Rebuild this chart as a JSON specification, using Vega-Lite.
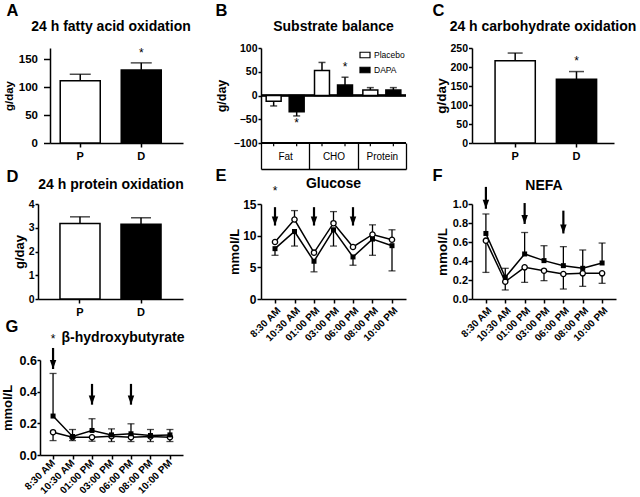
{
  "$schema": "https://vega.github.io/schema/vega-lite/v6.json",
  "padding": {"left": 1, "top": 2, "right": 2, "bottom": 4},
  "config": {
    "font": "Liberation Sans",
    "view": {"stroke": null},
    "axis": {"domainColor": "black", "domainWidth": 1.5, "tickColor": "black", "tickWidth": 1.5, "tickSize": 5, "labelColor": "black", "labelFont": "Liberation Sans", "labelFontWeight": "bold", "labelFontSize": 11, "labelPadding": 3, "labelOverlap": false, "titleFont": "Liberation Sans", "titleFontSize": 12, "titleFontWeight": "bold", "titleColor": "black", "titlePadding": 4, "grid": false},
    "title": {"font": "Liberation Sans", "fontSize": 14, "fontWeight": "bold", "color": "black", "frame": "group"},
    "legend": {"labelFont": "Liberation Sans", "labelColor": "black"}
  },
  "datasets": {
    "fat": [{"g": "P", "v": 111.6, "hi": 123}, {"g": "D", "v": 130.8, "hi": 143.4}],
    "fatStar": [{"g": "D", "sy": 161}],
    "sub": [
      {"cat": "Fat", "grp": "Placebo", "v": -12, "hi": -22},
      {"cat": "Fat", "grp": "DAPA", "v": -34, "hi": -43},
      {"cat": "CHO", "grp": "Placebo", "v": 52.6, "hi": 69.6},
      {"cat": "CHO", "grp": "DAPA", "v": 22, "hi": 38.5},
      {"cat": "Protein", "grp": "Placebo", "v": 11.5, "hi": 16.6},
      {"cat": "Protein", "grp": "DAPA", "v": 11.5, "hi": 16.6}
    ],
    "subStar": [{"cat": "Fat", "grp": "DAPA", "sy": -58}, {"cat": "CHO", "grp": "DAPA", "sy": 61}],
    "carb": [{"g": "P", "v": 216.4, "hi": 236.7}, {"g": "D", "v": 167.8, "hi": 188}],
    "carbStar": [{"g": "D", "sy": 216}],
    "prot": [{"g": "P", "v": 3.18, "hi": 3.46}, {"g": "D", "v": 3.15, "hi": 3.42}],
    "glu": [
      {"k": 1, "t": "8:30 AM", "grp": "Placebo", "v": 9.0, "eb": null},
      {"k": 2, "t": "10:30 AM", "grp": "Placebo", "v": 12.55, "eb": 13.96},
      {"k": 3, "t": "01:00 PM", "grp": "Placebo", "v": 7.32, "eb": null},
      {"k": 4, "t": "03:00 PM", "grp": "Placebo", "v": 11.97, "eb": 13.8},
      {"k": 5, "t": "06:00 PM", "grp": "Placebo", "v": 8.21, "eb": null},
      {"k": 6, "t": "08:00 PM", "grp": "Placebo", "v": 10.19, "eb": 11.71},
      {"k": 7, "t": "10:00 PM", "grp": "Placebo", "v": 9.36, "eb": 10.93},
      {"k": 1, "t": "8:30 AM", "grp": "DAPA", "v": 7.95, "eb": 6.9},
      {"k": 2, "t": "10:30 AM", "grp": "DAPA", "v": 10.66, "eb": 8.36},
      {"k": 3, "t": "01:00 PM", "grp": "DAPA", "v": 5.96, "eb": 4.29},
      {"k": 4, "t": "03:00 PM", "grp": "DAPA", "v": 10.93, "eb": 8.36},
      {"k": 5, "t": "06:00 PM", "grp": "DAPA", "v": 6.64, "eb": 5.33},
      {"k": 6, "t": "08:00 PM", "grp": "DAPA", "v": 9.46, "eb": 6.9},
      {"k": 7, "t": "10:00 PM", "grp": "DAPA", "v": 8.42, "eb": 4.44}
    ],
    "gluArr": [{"t": "8:30 AM", "top": 14.5, "tip": 11.6}, {"t": "01:00 PM", "top": 14.5, "tip": 11.6}, {"t": "06:00 PM", "top": 14.5, "tip": 11.6}],
    "gluStar": [{"t": "8:30 AM", "sy": 17.0}],
    "nefa": [
      {"k": 1, "t": "8:30 AM", "grp": "Placebo", "v": 0.614, "eb": 0.28},
      {"k": 2, "t": "10:30 AM", "grp": "Placebo", "v": 0.182, "eb": 0.095},
      {"k": 3, "t": "01:00 PM", "grp": "Placebo", "v": 0.333, "eb": 0.175},
      {"k": 4, "t": "03:00 PM", "grp": "Placebo", "v": 0.298, "eb": 0.193},
      {"k": 5, "t": "06:00 PM", "grp": "Placebo", "v": 0.263, "eb": 0.105},
      {"k": 6, "t": "08:00 PM", "grp": "Placebo", "v": 0.27, "eb": 0.133},
      {"k": 7, "t": "10:00 PM", "grp": "Placebo", "v": 0.27, "eb": 0.165},
      {"k": 1, "t": "8:30 AM", "grp": "DAPA", "v": 0.69, "eb": 0.895},
      {"k": 2, "t": "10:30 AM", "grp": "DAPA", "v": 0.228, "eb": 0.323},
      {"k": 3, "t": "01:00 PM", "grp": "DAPA", "v": 0.474, "eb": 0.7},
      {"k": 4, "t": "03:00 PM", "grp": "DAPA", "v": 0.404, "eb": 0.561},
      {"k": 5, "t": "06:00 PM", "grp": "DAPA", "v": 0.351, "eb": 0.551},
      {"k": 6, "t": "08:00 PM", "grp": "DAPA", "v": 0.323, "eb": 0.516},
      {"k": 7, "t": "10:00 PM", "grp": "DAPA", "v": 0.379, "eb": 0.589}
    ],
    "nefaArr": [{"t": "8:30 AM", "top": 1.18, "tip": 0.95}, {"t": "01:00 PM", "top": 1.01, "tip": 0.79}, {"t": "06:00 PM", "top": 0.93, "tip": 0.69}],
    "bhb": [
      {"k": 1, "t": "8:30 AM", "grp": "Placebo", "v": 0.144, "eb": 0.091},
      {"k": 2, "t": "10:30 AM", "grp": "Placebo", "v": 0.112, "eb": 0.091},
      {"k": 3, "t": "01:00 PM", "grp": "Placebo", "v": 0.112, "eb": 0.087},
      {"k": 4, "t": "03:00 PM", "grp": "Placebo", "v": 0.119, "eb": 0.085},
      {"k": 5, "t": "06:00 PM", "grp": "Placebo", "v": 0.112, "eb": 0.085},
      {"k": 6, "t": "08:00 PM", "grp": "Placebo", "v": 0.117, "eb": 0.085},
      {"k": 7, "t": "10:00 PM", "grp": "Placebo", "v": 0.112, "eb": 0.085},
      {"k": 1, "t": "8:30 AM", "grp": "DAPA", "v": 0.246, "eb": 0.515},
      {"k": 2, "t": "10:30 AM", "grp": "DAPA", "v": 0.117, "eb": 0.161},
      {"k": 3, "t": "01:00 PM", "grp": "DAPA", "v": 0.155, "eb": 0.229},
      {"k": 4, "t": "03:00 PM", "grp": "DAPA", "v": 0.127, "eb": 0.165},
      {"k": 5, "t": "06:00 PM", "grp": "DAPA", "v": 0.134, "eb": 0.197},
      {"k": 6, "t": "08:00 PM", "grp": "DAPA", "v": 0.123, "eb": 0.161},
      {"k": 7, "t": "10:00 PM", "grp": "DAPA", "v": 0.127, "eb": 0.161}
    ],
    "bhbArr": [{"t": "8:30 AM", "top": 0.676, "tip": 0.543}, {"t": "01:00 PM", "top": 0.449, "tip": 0.318}, {"t": "06:00 PM", "top": 0.449, "tip": 0.318}],
    "bhbStar": [{"t": "8:30 AM", "sy": 0.73}]
  },
  "columns": 3,
  "bounds": "flush",
  "align": "each",
  "spacing": {"row": 61, "column": 66},
  "resolve": {"scale": {"fill": "independent"}, "legend": {"fill": "independent"}},
  "concat": [
    {
      "width": 157, "height": 95,
      "title": {"text": "24 h fatty acid oxidation", "dx": -5.5, "offset": -32},
      "data": {"name": "fat"},
      "encoding": {
        "x": {"field": "g", "type": "nominal", "sort": ["P", "D"], "scale": {"range": [12, 145], "paddingInner": 0.344, "paddingOuter": 0.262, "align": 0.32},
          "axis": {"title": "A", "titleX": -32, "titleY": -141, "titleAlign": "left", "titleBaseline": "top", "titleFontSize": 16.5, "titleAngle": 0, "labelAngle": 0, "tickSize": 4, "labelPadding": 3}},
        "y": {"field": "v", "type": "quantitative", "scale": {"domain": [0, 170]}, "axis": {"values": [0, 50, 100, 150], "title": "g/day", "offset": -12, "tickSize": 6.5, "labelPadding": 6, "labelFontSize": 11.5, "titleFontSize": 11.5, "titlePadding": 4}}
      },
      "layer": [
        {"mark": {"type": "rule", "color": "black", "strokeWidth": 1.5}, "encoding": {"y2": {"field": "hi"}}},
        {"mark": {"type": "tick", "color": "black", "thickness": 1.5, "size": 21}, "encoding": {"y": {"field": "hi", "type": "quantitative"}}},
        {"mark": {"type": "bar", "stroke": "black", "strokeWidth": 1.5}, "encoding": {"fill": {"field": "g", "type": "nominal", "scale": {"domain": ["P", "D"], "range": ["white", "black"]}, "legend": null}}},
        {"data": {"name": "fatStar"}, "mark": {"type": "text", "text": "*", "fontSize": 12, "baseline": "middle"}, "encoding": {"y": {"field": "sy", "type": "quantitative"}}}
      ]
    },
    {
      "width": 145, "height": 95,
      "title": {"text": "Substrate balance", "offset": -32},
      "data": {"name": "sub"},
      "encoding": {
        "y": {"field": "v", "type": "quantitative", "scale": {"domain": [-100, 100]}, "axis": {"values": [-100, -50, 0, 50, 100], "title": "g/day", "tickSize": 3, "labelPadding": 1, "labelFontSize": 10.5, "titleFontSize": 12.5, "titlePadding": 5}}
      },
      "layer": [
        {"mark": {"type": "rule", "color": "black", "strokeWidth": 1.5}, "encoding": {"y": {"datum": 0}}},
        {"mark": {"type": "rule", "color": "black", "strokeWidth": 1.5}, "encoding": {"y": {"datum": -100}}},
        {"mark": {"type": "rule", "color": "black", "strokeWidth": 1.2},
          "encoding": {
            "x": {"field": "cat", "type": "nominal", "sort": ["Fat", "CHO", "Protein"], "scale": {"paddingInner": 0, "paddingOuter": 0},
              "axis": {"title": "B", "titleX": -46, "titleY": -167, "titleAlign": "left", "titleBaseline": "top", "titleFontSize": 16.5, "titleAngle": 0, "labelAngle": 0, "offset": 26, "tickSize": -26, "tickBand": "extent", "tickWidth": 1.3, "labelFontWeight": "normal", "labelFontSize": 10, "labelPadding": 13, "labelBaseline": "middle"}},
            "xOffset": {"field": "grp", "type": "nominal", "sort": ["Placebo", "DAPA"], "scale": {"paddingInner": 0.35, "paddingOuter": 0.225}},
            "y": {"datum": -100}, "y2": {"datum": -107}}},
        {"mark": {"type": "rule", "color": "black", "strokeWidth": 1.5},
          "encoding": {"x": {"field": "cat", "type": "nominal", "sort": ["Fat", "CHO", "Protein"]}, "xOffset": {"field": "grp", "type": "nominal", "sort": ["Placebo", "DAPA"]}, "y2": {"field": "hi"}}},
        {"mark": {"type": "tick", "color": "black", "thickness": 1.5, "size": 7},
          "encoding": {"x": {"field": "cat", "type": "nominal", "sort": ["Fat", "CHO", "Protein"]}, "xOffset": {"field": "grp", "type": "nominal", "sort": ["Placebo", "DAPA"]}, "y": {"field": "hi", "type": "quantitative"}}},
        {"mark": {"type": "bar", "stroke": "black", "strokeWidth": 1.5},
          "encoding": {"x": {"field": "cat", "type": "nominal", "sort": ["Fat", "CHO", "Protein"]}, "xOffset": {"field": "grp", "type": "nominal", "sort": ["Placebo", "DAPA"]},
            "fill": {"field": "grp", "type": "nominal", "scale": {"domain": ["Placebo", "DAPA"], "range": ["white", "black"]},
              "legend": {"orient": "top-right", "title": null, "offset": 1, "padding": 0, "labelFontSize": 8.5, "labelFontWeight": "normal", "symbolType": "M-1,-0.55L1,-0.55L1,0.55L-1,0.55Z", "symbolSize": 100, "symbolStrokeColor": "black", "symbolStrokeWidth": 1.2, "rowPadding": 3, "labelOffset": 3}}}},
        {"data": {"name": "subStar"}, "mark": {"type": "text", "text": "*", "fontSize": 12, "baseline": "middle"},
          "encoding": {"x": {"field": "cat", "type": "nominal", "sort": ["Fat", "CHO", "Protein"]}, "xOffset": {"field": "grp", "type": "nominal", "sort": ["Placebo", "DAPA"]}, "y": {"field": "sy", "type": "quantitative"}}}
      ]
    },
    {
      "width": 142, "height": 95,
      "title": {"text": "24 h carbohydrate oxidation", "offset": -32},
      "data": {"name": "carb"},
      "encoding": {
        "x": {"field": "g", "type": "nominal", "sort": ["P", "D"], "scale": {"paddingInner": 0.344, "paddingOuter": 0.33, "align": 0.57},
          "axis": {"title": "C", "titleX": -40, "titleY": -141, "titleAlign": "left", "titleBaseline": "top", "titleFontSize": 16.5, "titleAngle": 0, "labelAngle": 0, "tickSize": 4, "labelPadding": 3}},
        "y": {"field": "v", "type": "quantitative", "scale": {"domain": [0, 250]}, "axis": {"values": [0, 50, 100, 150, 200, 250], "title": "g/day", "tickSize": 3.5, "labelPadding": 1, "labelFontSize": 10.5, "titleFontSize": 13.5, "titlePadding": 1}}
      },
      "layer": [
        {"mark": {"type": "rule", "color": "black", "strokeWidth": 1.5}, "encoding": {"y2": {"field": "hi"}}},
        {"mark": {"type": "tick", "color": "black", "thickness": 1.5, "size": 15}, "encoding": {"y": {"field": "hi", "type": "quantitative"}}},
        {"mark": {"type": "bar", "stroke": "black", "strokeWidth": 1.5}, "encoding": {"fill": {"field": "g", "type": "nominal", "scale": {"domain": ["P", "D"], "range": ["white", "black"]}, "legend": null}}},
        {"data": {"name": "carbStar"}, "mark": {"type": "text", "text": "*", "fontSize": 12, "baseline": "middle"}, "encoding": {"y": {"field": "sy", "type": "quantitative"}}}
      ]
    },
    {
      "width": 157, "height": 95,
      "title": {"text": "24 h protein oxidation", "dx": -5.5, "offset": -23.5},
      "data": {"name": "prot"},
      "encoding": {
        "x": {"field": "g", "type": "nominal", "sort": ["P", "D"], "scale": {"range": [0, 145], "paddingInner": 0.344, "paddingOuter": 0.36},
          "axis": {"title": "D", "titleX": -32, "titleY": -131, "titleAlign": "left", "titleBaseline": "top", "titleFontSize": 16.5, "titleAngle": 0, "labelAngle": 0, "tickSize": 4, "labelPadding": 3}},
        "y": {"field": "v", "type": "quantitative", "scale": {"domain": [0, 4]}, "axis": {"values": [0, 1, 2, 3, 4], "title": "g/day", "tickSize": 3, "labelPadding": 1, "labelFontSize": 10.5, "titleFontSize": 13, "titlePadding": 2}}
      },
      "layer": [
        {"mark": {"type": "rule", "color": "black", "strokeWidth": 1.5}, "encoding": {"y2": {"field": "hi"}}},
        {"mark": {"type": "tick", "color": "black", "thickness": 1.5, "size": 20}, "encoding": {"y": {"field": "hi", "type": "quantitative"}}},
        {"mark": {"type": "bar", "stroke": "black", "strokeWidth": 1.5}, "encoding": {"fill": {"field": "g", "type": "nominal", "scale": {"domain": ["P", "D"], "range": ["white", "black"]}, "legend": null}}}
      ]
    },
    {
      "width": 145, "height": 95,
      "title": {"text": "Glucose", "offset": -24},
      "data": {"name": "glu"},
      "encoding": {
        "x": {"field": "t", "type": "ordinal", "sort": ["8:30 AM", "10:30 AM", "01:00 PM", "03:00 PM", "06:00 PM", "08:00 PM", "10:00 PM"], "scale": {"type": "point", "padding": 0.718},
          "axis": {"title": "E", "titleX": -46, "titleY": -132, "titleAlign": "left", "titleBaseline": "top", "titleFontSize": 16.5, "titleAngle": 0, "labelAngle": -45, "labelFontSize": 10, "tickSize": 4, "labelPadding": 2}},
        "y": {"field": "v", "type": "quantitative", "scale": {"domain": [0, 15]}, "axis": {"values": [0, 5, 10, 15], "title": "mmol/L", "labelOverlap": false, "tickSize": 4, "labelPadding": 1, "labelFontSize": 12, "titleFontSize": 13, "titlePadding": 1}}
      },
      "layer": [
        {"mark": {"type": "rule", "color": "black", "strokeWidth": 1.3}, "encoding": {"y2": {"field": "eb"}}},
        {"mark": {"type": "tick", "color": "black", "thickness": 1.3, "size": 7}, "encoding": {"y": {"field": "eb", "type": "quantitative"}}},
        {"mark": {"type": "line", "color": "black", "strokeWidth": 1.5}, "encoding": {"detail": {"field": "grp"}, "order": {"field": "k", "type": "quantitative"}}},
        {"transform": [{"filter": "datum.grp === 'Placebo'"}], "mark": {"type": "point", "shape": "circle", "filled": true, "fill": "white", "stroke": "black", "strokeWidth": 1.3, "size": 28, "opacity": 1}},
        {"transform": [{"filter": "datum.grp === 'DAPA'"}], "mark": {"type": "point", "shape": "square", "filled": true, "color": "black", "size": 25, "opacity": 1}},
        {"data": {"name": "gluArr"}, "mark": {"type": "rule", "color": "black", "strokeWidth": 2.2}, "encoding": {"y": {"field": "top", "type": "quantitative"}, "y2": {"field": "tip"}}},
        {"data": {"name": "gluArr"}, "mark": {"type": "point", "shape": "M-1,-2.8L1,-2.8L0,0Z", "filled": true, "color": "black", "size": 42, "opacity": 1}, "encoding": {"y": {"field": "tip", "type": "quantitative"}}},
        {"data": {"name": "gluStar"}, "mark": {"type": "text", "text": "*", "fontSize": 12, "baseline": "middle"}, "encoding": {"y": {"field": "sy", "type": "quantitative"}}}
      ]
    },
    {
      "width": 144, "height": 95,
      "title": {"text": "NEFA", "offset": -26},
      "data": {"name": "nefa"},
      "encoding": {
        "x": {"field": "t", "type": "ordinal", "sort": ["8:30 AM", "10:30 AM", "01:00 PM", "03:00 PM", "06:00 PM", "08:00 PM", "10:00 PM"], "scale": {"type": "point", "padding": 0.718},
          "axis": {"title": "F", "titleX": -40, "titleY": -132, "titleAlign": "left", "titleBaseline": "top", "titleFontSize": 16.5, "titleAngle": 0, "labelAngle": -45, "labelFontSize": 10, "tickSize": 4, "labelPadding": 2}},
        "y": {"field": "v", "type": "quantitative", "scale": {"domain": [0, 1]}, "axis": {"values": [0, 0.2, 0.4, 0.6, 0.8, 1], "format": ".1f", "title": "mmol/L", "labelOverlap": false, "tickSize": 4, "labelPadding": 0.5, "labelFontSize": 11, "titleFontSize": 13.5, "titlePadding": 3}}
      },
      "layer": [
        {"mark": {"type": "rule", "color": "black", "strokeWidth": 1.3}, "encoding": {"y2": {"field": "eb"}}},
        {"mark": {"type": "tick", "color": "black", "thickness": 1.3, "size": 7}, "encoding": {"y": {"field": "eb", "type": "quantitative"}}},
        {"mark": {"type": "line", "color": "black", "strokeWidth": 1.5}, "encoding": {"detail": {"field": "grp"}, "order": {"field": "k", "type": "quantitative"}}},
        {"transform": [{"filter": "datum.grp === 'Placebo'"}], "mark": {"type": "point", "shape": "circle", "filled": true, "fill": "white", "stroke": "black", "strokeWidth": 1.3, "size": 28, "opacity": 1}},
        {"transform": [{"filter": "datum.grp === 'DAPA'"}], "mark": {"type": "point", "shape": "square", "filled": true, "color": "black", "size": 25, "opacity": 1}},
        {"data": {"name": "nefaArr"}, "mark": {"type": "rule", "color": "black", "strokeWidth": 2.2}, "encoding": {"y": {"field": "top", "type": "quantitative"}, "y2": {"field": "tip"}}},
        {"data": {"name": "nefaArr"}, "mark": {"type": "point", "shape": "M-1,-2.8L1,-2.8L0,0Z", "filled": true, "color": "black", "size": 42, "opacity": 1}, "encoding": {"y": {"field": "tip", "type": "quantitative"}}}
      ]
    },
    {
      "width": 157, "height": 95,
      "title": {"text": "β-hydroxybutyrate", "dx": 6.5, "offset": -26.5},
      "data": {"name": "bhb"},
      "encoding": {
        "x": {"field": "t", "type": "ordinal", "sort": ["8:30 AM", "10:30 AM", "01:00 PM", "03:00 PM", "06:00 PM", "08:00 PM", "10:00 PM"], "scale": {"type": "point", "range": [2, 145], "padding": 0.67},
          "axis": {"title": "G", "titleX": -33, "titleY": -137, "titleAlign": "left", "titleBaseline": "top", "titleFontSize": 16.5, "titleAngle": 0, "labelAngle": -45, "labelAlign": "right", "labelBaseline": "middle", "labelFontSize": 10, "tickSize": 4, "labelPadding": 2}},
        "y": {"field": "v", "type": "quantitative", "scale": {"domain": [0, 0.6]}, "axis": {"values": [0, 0.2, 0.4, 0.6], "format": ".1f", "title": "mmol/L", "labelOverlap": false, "offset": -2, "tickSize": 3, "labelPadding": 0.5, "labelFontSize": 12.5, "titleFontSize": 13, "titlePadding": 5}}
      },
      "layer": [
        {"mark": {"type": "rule", "color": "black", "strokeWidth": 1.3}, "encoding": {"y2": {"field": "eb"}}},
        {"mark": {"type": "tick", "color": "black", "thickness": 1.3, "size": 7}, "encoding": {"y": {"field": "eb", "type": "quantitative"}}},
        {"mark": {"type": "line", "color": "black", "strokeWidth": 1.5}, "encoding": {"detail": {"field": "grp"}, "order": {"field": "k", "type": "quantitative"}}},
        {"transform": [{"filter": "datum.grp === 'Placebo'"}], "mark": {"type": "point", "shape": "circle", "filled": true, "fill": "white", "stroke": "black", "strokeWidth": 1.3, "size": 28, "opacity": 1}},
        {"transform": [{"filter": "datum.grp === 'DAPA'"}], "mark": {"type": "point", "shape": "square", "filled": true, "color": "black", "size": 25, "opacity": 1}},
        {"data": {"name": "bhbArr"}, "mark": {"type": "rule", "color": "black", "strokeWidth": 2.2}, "encoding": {"y": {"field": "top", "type": "quantitative"}, "y2": {"field": "tip"}}},
        {"data": {"name": "bhbArr"}, "mark": {"type": "point", "shape": "M-1,-2.8L1,-2.8L0,0Z", "filled": true, "color": "black", "size": 42, "opacity": 1}, "encoding": {"y": {"field": "tip", "type": "quantitative"}}},
        {"data": {"name": "bhbStar"}, "mark": {"type": "text", "text": "*", "fontSize": 12, "baseline": "middle"}, "encoding": {"y": {"field": "sy", "type": "quantitative"}}}
      ]
    }
  ]
}
